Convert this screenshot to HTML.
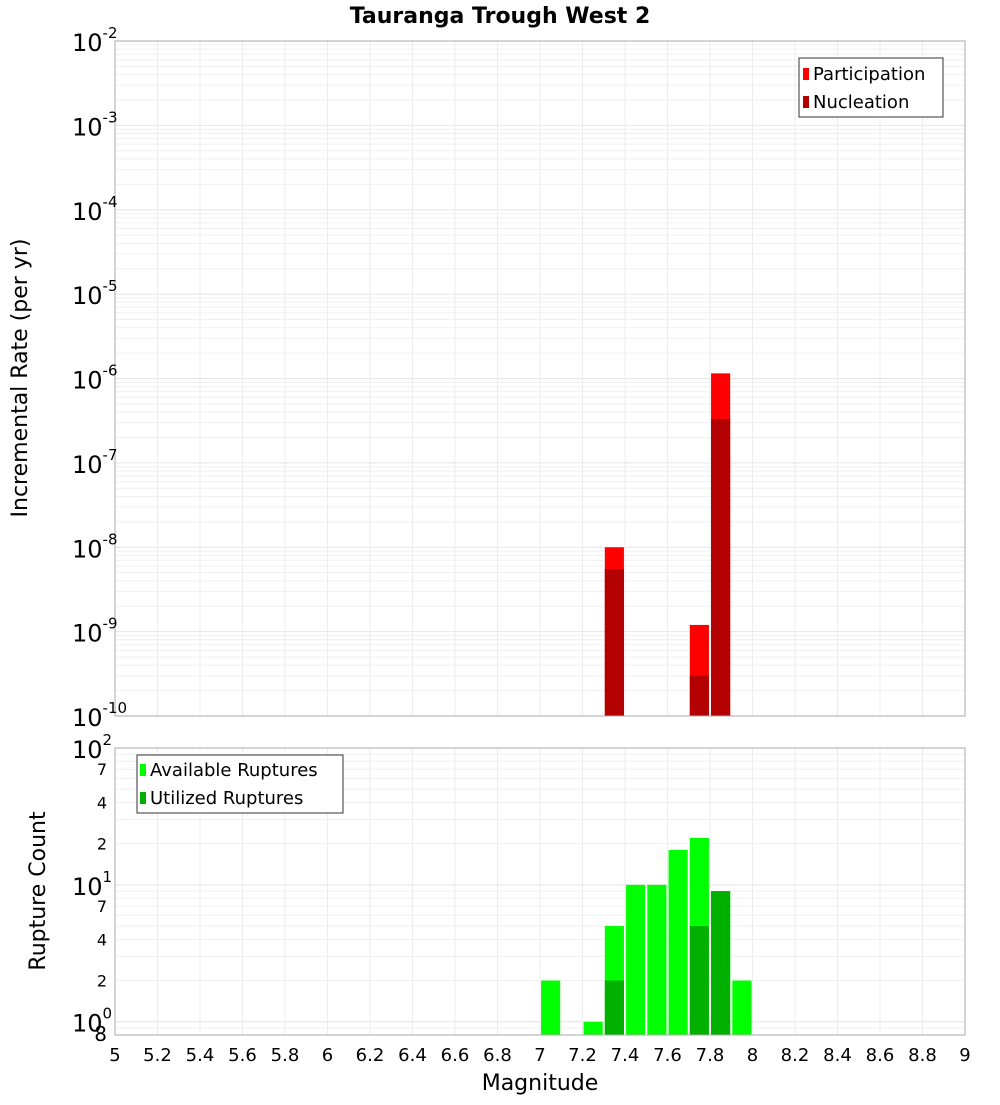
<!DOCTYPE html>
<html><head><meta charset="utf-8"><style>
body{margin:0;background:#fff;font-family:"Liberation Sans","DejaVu Sans",sans-serif}
svg text{font-family:"DejaVu Sans","Liberation Sans",sans-serif}
</style></head><body>
<svg id="c" width="1000" height="1100" xmlns="http://www.w3.org/2000/svg">
<rect width="1000" height="1100" fill="#fff"/>
<text x="500" y="23" text-anchor="middle" font-size="22" font-weight="bold">Tauranga Trough West 2</text>
<g id="topPanel"></g><g id="botPanel"></g>
<text transform="translate(27,378) rotate(-90)" text-anchor="middle" font-size="22">Incremental Rate (per yr)</text>
<text transform="translate(45,891) rotate(-90)" text-anchor="middle" font-size="22">Rupture Count</text>
<text x="540" y="1090" text-anchor="middle" font-size="22">Magnitude</text>
</svg>
<script>
const bins=[7.05,7.25,7.35,7.45,7.55,7.65,7.75,7.85,7.95];
const rateBins=[7.35,7.75,7.85];
const participation=[1.0e-8,1.2e-9,1.15e-6];
const nucleation=[5.5e-9,3.0e-10,3.3e-7];
const available=[2,1,5,10,10,18,22,9,2];
const utilized=[0,0,2,0,0,0,5,9,0];
const xTicks=[5,5.2,5.4,5.6,5.8,6,6.2,6.4,6.6,6.8,7,7.2,7.4,7.6,7.8,8,8.2,8.4,8.6,8.8,9];
const topExp=[-2,-3,-4,-5,-6,-7,-8,-9,-10];
const botMinor=[2,4,7,20,40,70];

const NS="http://www.w3.org/2000/svg";
const X0=115,X1=965;
const xs=m=>X0+(m-5)/4*(X1-X0);
const T0=41,T1=716;
const yTop=v=>T0+(-2-Math.log10(v))/8*(T1-T0);
const B0=748,B1=1035,bmin=Math.log10(0.8);
const yBot=v=>B0+(2-Math.log10(v))/(2-bmin)*(B1-B0);
function mk(p,tag,a,txt){const e=document.createElementNS(NS,tag);for(const k in a)e.setAttribute(k,a[k]);if(txt!=null)e.textContent=txt;p.appendChild(e);return e;}
const topG=document.getElementById('topPanel'),botG=document.getElementById('botPanel');
const bw=0.09;
mk(topG,'rect',{x:X0,y:T0,width:X1-X0,height:T1-T0,fill:'#fff'});
for(let d=-10;d<-2;d++)for(let k=1;k<10;k++){const y=yTop(k*Math.pow(10,d));const g=mk(topG,'line',{x1:X0,x2:X1,y1:y,y2:y,stroke:k==1?'#e4e4e4':'#f0f0f0','stroke-width':1});

}
xTicks.forEach(t=>{const x=xs(t);const g=mk(topG,'line',{x1:x,x2:x,y1:T0,y2:T1,stroke:'#ececec'});

});
rateBins.forEach((m,i)=>{
const x=xs(m-bw/2),w=xs(m+bw/2)-x;
const p=mk(topG,'rect',{x:x,y:yTop(participation[i]),width:w,height:T1-yTop(participation[i]),fill:'#ff0000'});


const n=mk(topG,'rect',{x:x,y:yTop(nucleation[i]),width:w,height:T1-yTop(nucleation[i]),fill:'#b30000'});

});
mk(topG,'rect',{x:X0,y:T0,width:X1-X0,height:T1-T0,fill:'none',stroke:'#aaa'});
topExp.forEach(e=>{const y=yTop(Math.pow(10,e));const t=mk(topG,'text',{x:72,y:y+10,'font-size':24});


t.textContent='10';mk(t,'tspan',{dy:-13,'font-size':15},String(e));});
const lg=mk(topG,'g',{});


mk(lg,'rect',{x:799,y:58,width:144,height:59,fill:'#fff',stroke:'#333'});
mk(lg,'rect',{x:803,y:68,width:6,height:12,fill:'#ff0000'});
mk(lg,'text',{x:813,y:80,'font-size':18},'Participation');
mk(lg,'rect',{x:803,y:96,width:6,height:12,fill:'#b30000'});
mk(lg,'text',{x:813,y:108,'font-size':18},'Nucleation');
for(let d=-1;d<2;d++)for(let k=1;k<10;k++){const v=k*Math.pow(10,d);if(v<0.8)continue;const y=yBot(v);const g=mk(botG,'line',{x1:X0,x2:X1,y1:y,y2:y,stroke:k==1?'#e4e4e4':'#f0f0f0'});

}
xTicks.forEach(t=>{const x=xs(t);const g=mk(botG,'line',{x1:x,x2:x,y1:B0,y2:B1,stroke:'#ececec'});

});
bins.forEach((m,i)=>{
const x=xs(m-bw/2),w=xs(m+bw/2)-x;
const a=mk(botG,'rect',{x:x,y:yBot(available[i]),width:w,height:B1-yBot(available[i]),fill:'#00ff00'});


if(utilized[i]>0){const u=mk(botG,'rect',{x:x,y:yBot(utilized[i]),width:w,height:B1-yBot(utilized[i]),fill:'#00b000'});

}});
mk(botG,'rect',{x:X0,y:B0,width:X1-X0,height:B1-B0,fill:'none',stroke:'#aaa'});
[0,1,2].forEach(e=>{const y=yBot(Math.pow(10,e));const t=mk(botG,'text',{x:72,y:y+10,'font-size':24});


t.textContent='10';mk(t,'tspan',{dy:-13,'font-size':15},String(e));});
botMinor.forEach(v=>{const t=mk(botG,'text',{x:107,y:yBot(v)+6,'font-size':16,'text-anchor':'end'},String(v)[0]);

});
const t8=mk(botG,'text',{x:107,y:1041,'font-size':20,'text-anchor':'end'},'8');


xTicks.forEach(t=>{const e=mk(botG,'text',{x:xs(t),y:1061,'font-size':18,'text-anchor':'middle'},String(t));

});
const lb=mk(botG,'g',{});


mk(lb,'rect',{x:137,y:755,width:206,height:58,fill:'#fff',stroke:'#333'});
mk(lb,'rect',{x:140,y:764,width:6,height:12,fill:'#00ff00'});
mk(lb,'text',{x:150,y:776,'font-size':18},'Available Ruptures');
mk(lb,'rect',{x:140,y:792,width:6,height:12,fill:'#00b000'});
mk(lb,'text',{x:150,y:804,'font-size':18},'Utilized Ruptures');
</script>
</body></html>
